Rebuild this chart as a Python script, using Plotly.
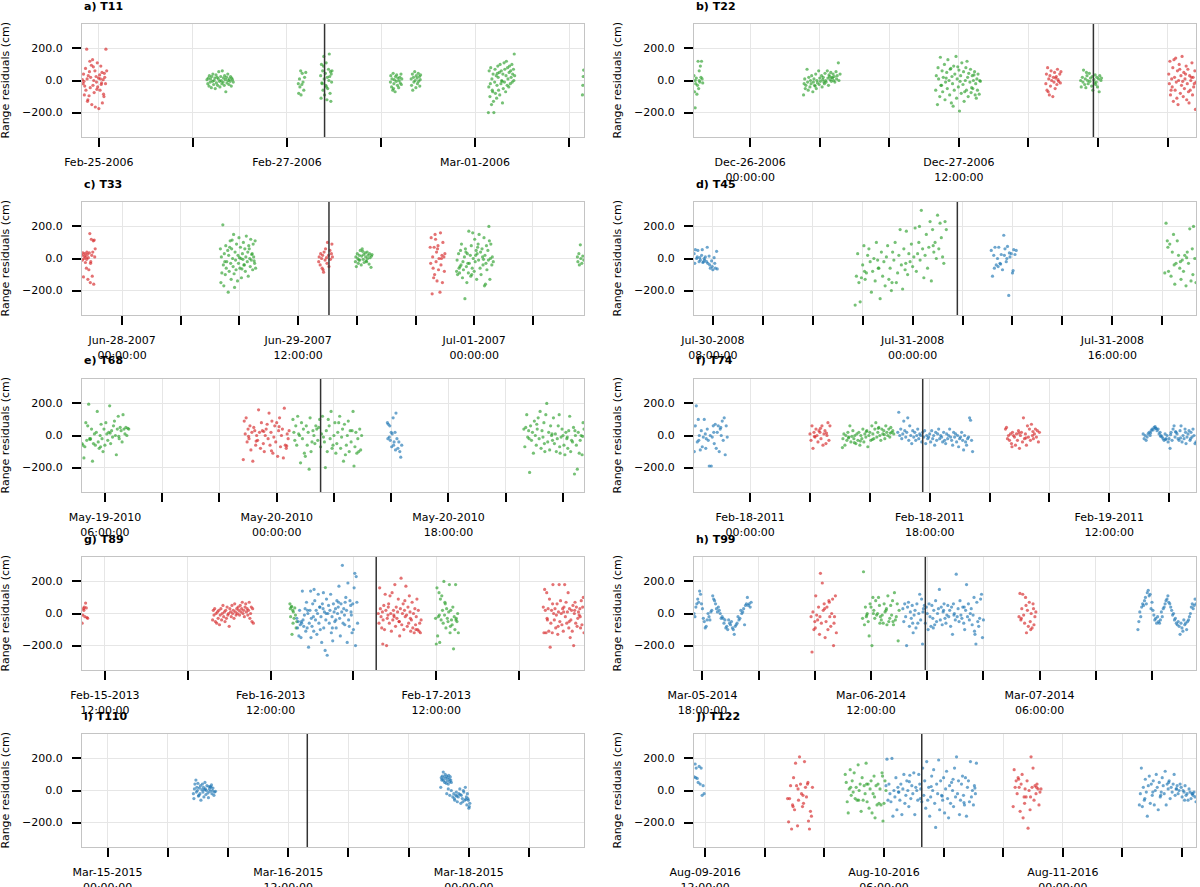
import datetime as dt
import plotly.graph_objects as go

# ---------------- data (hours from panel reference time, residual in cm) ----------------
PANEL_NAMES = ["a) T11", "b) T22", "c) T33", "d) T45", "e) T68",
               "f) T74", "g) T89", "h) T99", "i) T110", "j) T122"]
PANEL_BASE = ["2006-02-25 00:00", "2006-12-26 00:00", "2007-06-28 00:00", "2008-07-30 08:00",
              "2010-05-19 06:00", "2011-02-18 00:00", "2013-02-15 12:00", "2014-03-05 18:00",
              "2015-03-15 00:00", "2016-08-09 12:00"]
CLOSEST_APPROACH = ["2006-02-27 09:36", "2006-12-28 11:12", "2007-06-29 18:18", "2008-07-31 03:35",
                    "2010-05-20 04:36", "2011-02-18 17:18", "2013-02-17 03:18", "2014-03-06 17:48",
                    "2015-03-16 15:48", "2016-08-10 09:48"]
TICK_HOURS = [24, 12, 12, 4, 6, 6, 12, 6, 12, 6]
LABEL_EVERY = [2, 3, 3, 4, 3, 3, 2, 3, 3, 3]
Y_TICKS = [-200, 0, 200]

# ---- a) T11
A_RED_T = [[-4.2,-4.0,-3.9,-3.7,-3.6,-3.4,-3.3,-3.1,-3.0,-2.8,-2.7,-2.5,-2.4,-2.2,-2.1,-1.9,-1.8,-1.6,-1.5,-1.3,-1.2,-1.0,-0.9,-0.7,-0.6,-0.4,-0.3,-0.1,0.0,0.2,0.3,0.5,0.6,0.8,0.9,1.1,1.2,1.4,1.5,1.7,1.8,2.0,-3.8,-2.9,-1.4,-0.5,0.4,1.3,-2.3,0.7]]
A_RED_V = [[5,-20,40,-90,-35,75,-60,195,10,-120,30,-95,55,-45,20,95,-150,130,-30,0,-75,60,-165,25,-10,110,-40,15,-175,35,-60,90,-25,50,-140,5,-85,45,20,-20,195,60,-5,-130,85,-55,10,-100,120,-15]]
A_GREEN_T = [
    [27.6,27.8,27.9,28.1,28.2,28.4,28.5,28.7,28.8,29.0,29.1,29.3,29.4,29.6,29.7,29.9,30.0,30.2,30.3,30.5,30.6,30.8,30.9,31.1,31.2,31.4,31.5,31.7,31.8,32.0,32.1,32.3,32.4,32.6,32.7,32.9,33.0,33.2,33.3,33.5,33.6,33.8,33.9,34.1,34.3],
    [50.9,51.0,51.2,51.3,51.5,51.6,51.8,51.9,52.1,52.3,52.5,52.8],
    [56.6,56.7,56.8,57.0,57.1,57.2,57.4,57.5,57.6,57.8,57.9,58.0,58.2,58.3,58.4,58.6,58.7,58.8,59.0,59.1,59.2,59.3,59.4,59.5,57.3,58.1,58.9,56.9],
    [74.4,74.5,74.7,74.8,75.0,75.1,75.3,75.4,75.6,75.7,75.9,76.0,76.2,76.3,76.5,76.6,76.8,76.9,77.1,77.2,77.3,75.2],
    [79.7,79.8,80.0,80.1,80.3,80.4,80.6,80.7,80.9,81.0,81.2,81.3,81.5,81.6,81.8,81.9,82.0,82.1],
    [99.4,99.5,99.6,99.8,99.9,100.0,100.2,100.3,100.4,100.6,100.7,100.8,101.0,101.1,101.2,101.4,101.5,101.6,101.8,101.9,102.0,102.2,102.3,102.4,102.6,102.7,102.8,103.0,103.1,103.2,103.4,103.5,103.6,103.8,103.9,104.0,104.2,104.3,104.4,104.6,104.7,104.8,105.0,105.1,105.2,105.4,105.5,105.6,105.8,105.9,106.0,106.1,100.5,101.7,102.9],
    [123.4,123.5,123.6,123.7]]
A_GREEN_V = [
    [5,-20,15,-35,30,-10,10,-45,25,-5,40,-25,0,15,-50,35,-15,20,-30,10,55,-5,-40,25,0,-20,60,-10,15,-30,30,5,-70,20,-15,40,0,-25,10,-5,25,-35,15,5,-10],
    [-20,-80,10,-40,60,-90,-25,45,-10,-60,20,50],
    [30,-110,100,-20,60,-60,150,10,-90,45,-30,110,-120,20,-50,70,0,165,-80,55,-130,40,-10,60,90,-40,25,-15],
    [-10,30,-40,10,-60,45,-20,5,-70,25,-5,35,-30,15,-45,0,20,-15,40,-25,10,-50],
    [10,-30,40,-60,20,-10,55,0,-45,30,15,-20,45,-5,25,-35,5,35],
    [-200,-40,60,-100,-20,80,-150,10,-60,40,-130,-200,-10,70,-80,30,-110,-30,90,20,-60,50,-90,100,-20,60,0,-140,40,-50,110,-10,70,-70,30,120,-30,80,10,-40,50,90,-20,60,20,100,-10,40,70,0,165,30,-70,45,-5],
    [-90,-30,25,65]]

# ---- b) T22
B_GREEN_T = [
    [-9.7,-9.6,-9.5,-9.5,-9.4,-9.3,-9.2,-9.1,-9.0,-8.9,-8.8,-8.8,-8.7,-8.6,-8.5,-8.4,-8.3,-8.2],
    [9.2,9.3,9.4,9.5,9.6,9.8,9.9,10.0,10.1,10.3,10.4,10.5,10.6,10.8,10.9,11.0,11.1,11.3,11.4,11.5,11.6,11.8,11.9,12.0,12.1,12.3,12.4,12.5,12.6,12.8,12.9,13.0,13.1,13.3,13.4,13.5,13.6,13.8,13.9,14.0,14.1,14.3,14.4,14.5,14.6,14.8,14.9,15.0,15.2,15.3,15.5,11.2,12.7,13.7,14.2],
    [32.0,32.1,32.3,32.4,32.5,32.7,32.8,32.9,33.1,33.2,33.3,33.5,33.6,33.7,33.9,34.0,34.1,34.3,34.4,34.5,34.7,34.8,34.9,35.1,35.2,35.3,35.5,35.6,35.7,35.9,36.0,36.1,36.3,36.4,36.5,36.7,36.8,36.9,37.1,37.2,37.3,37.5,37.6,37.7,37.9,38.0,38.1,38.3,38.4,38.5,38.7,38.8,38.9,39.1,39.2,39.3,39.5,39.6,39.7,33.0,34.6,35.0,36.2,37.4,38.2,33.8,35.8,37.0,38.6,39.0],
    [57.0,57.1,57.3,57.4,57.5,57.7,57.8,57.9,58.1,58.2,58.3,58.5,58.6,58.7,58.9,59.0,59.1,59.3,59.4,59.5,59.7,59.8,59.9,60.1,60.2,60.3,60.5,60.6,58.0,59.6]]
B_GREEN_V = [
    [30,-70,0,-170,-20,15,-85,-30,120,-50,60,0,-10,90,20,120,10,-15],
    [-90,-20,10,-50,-30,70,-10,-60,20,-40,0,-20,30,-70,-10,10,-30,40,-50,0,-15,60,-25,15,-5,30,-40,5,20,-20,45,0,-10,60,15,-30,35,5,50,-5,20,40,0,25,-10,55,10,30,110,0,40,-35,-10,25,15],
    [-60,30,-150,80,10,-100,145,-30,60,-70,20,100,-120,-10,50,-50,130,0,-90,70,-140,25,-20,90,-60,40,150,-110,10,-40,65,-190,30,-80,110,-25,55,-130,0,80,-60,20,-100,45,-10,70,-75,30,-50,0,55,-90,-20,10,-60,40,-85,0,-5,-30,75,-160,-5,120,-45,15,85,-70,35,-110],
    [0,-40,20,-10,65,-25,10,-45,30,0,-20,45,-5,15,-35,25,-60,5,-15,35,-10,20,-40,10,-70,30,0,15,50,-25]]
B_RED_T = [
    [51.0,51.1,51.2,51.3,51.5,51.6,51.7,51.8,51.9,52.0,52.2,52.3,52.4,52.5,52.6,52.8,52.9,53.0,53.1,53.2,53.4,53.5,53.6,51.4,52.7],
    [72.2,72.3,72.4,72.5,72.7,72.8,72.9,73.0,73.2,73.3,73.4,73.5,73.7,73.8,73.9,74.0,74.2,74.3,74.4,74.5,74.7,74.8,74.9,75.0,75.2,75.3,75.4,75.5,75.7,75.8,75.9,76.0,76.2,76.3,76.4,76.5,76.7,76.8,76.9,72.6,73.1,73.6,74.1,74.6,75.1,75.6,76.1,76.6]]
B_RED_V = [
    [-20,40,-60,80,10,-90,30,-35,60,0,-100,20,-10,50,-50,25,-25,70,5,-5,40,-15,55,-70,15],
    [40,-20,120,-90,10,-40,80,-130,20,-60,140,-10,60,-150,0,100,-80,30,-30,150,-100,50,-50,10,90,-120,-20,70,-140,30,-60,0,110,-90,20,-40,60,-180,-10,-60,130,-110,70,-5,40,-70,20,-20]]

# ---- c) T33
C_RED_T = [
    [-8.2,-8.1,-8.0,-7.9,-7.8,-7.7,-7.6,-7.5,-7.4,-7.3,-7.2,-7.1,-7.0,-6.9,-6.8,-6.7,-6.6,-6.5,-6.4,-6.3,-6.2,-6.1,-6.0,-5.9,-5.8,-5.7,-5.6,-5.5,-7.25,-6.45],
    [40.2,40.3,40.5,40.6,40.8,40.9,41.0,41.2,41.3,41.5,41.6,41.8,41.9,42.0,42.2,42.3,42.5,42.6,42.8,42.9,43.0,41.1],
    [63.0,63.1,63.2,63.4,63.5,63.6,63.8,63.9,64.0,64.2,64.3,64.4,64.6,64.7,64.8,65.0,65.1,65.2,65.4,65.5,65.6,65.8,65.9,66.0,63.7,64.5,65.3,64.1]]
C_RED_V = [
    [20,-10,35,-115,0,15,30,-25,10,-60,40,25,-130,5,-70,35,155,-150,-20,120,20,-110,40,110,-160,115,10,60,-5,-30],
    [-20,10,-40,30,0,-60,20,-85,40,-10,60,5,-30,100,20,-50,50,-5,30,90,10,-70],
    [70,-30,130,-220,10,-60,70,-100,150,-20,40,-140,80,-70,0,-210,160,-40,20,-150,100,10,-80,30,-120,60,0,120]]
C_GREEN_T = [
    [20.1,20.2,20.3,20.4,20.6,20.7,20.8,20.9,21.1,21.2,21.3,21.4,21.6,21.7,21.8,21.9,22.1,22.2,22.3,22.4,22.6,22.7,22.8,22.9,23.1,23.2,23.3,23.4,23.6,23.7,23.8,23.9,24.1,24.2,24.3,24.4,24.6,24.7,24.8,24.9,25.1,25.2,25.3,25.4,25.6,25.7,25.8,25.9,26.1,26.2,26.3,26.4,26.6,26.7,26.8,26.9,27.1,27.2,27.3,21.0,22.0,23.0,24.0,25.0,26.0,27.0,22.5,24.5,26.5],
    [47.7,47.8,47.9,48.1,48.2,48.3,48.5,48.6,48.7,48.9,49.0,49.1,49.3,49.4,49.5,49.7,49.8,49.9,50.1,50.2,50.3,50.5,50.6,50.7,50.9,51.0,51.1,48.4,49.2,50.0],
    [68.4,68.5,68.6,68.8,68.9,69.0,69.2,69.3,69.4,69.6,69.7,69.8,70.0,70.1,70.2,70.4,70.5,70.6,70.8,70.9,71.0,71.2,71.3,71.4,71.6,71.7,71.8,72.0,72.1,72.2,72.4,72.5,72.6,72.8,72.9,73.0,73.2,73.3,73.4,73.6,73.7,73.8,74.0,74.1,74.2,74.4,74.5,74.6,74.8,74.9,75.0,75.2,75.3,75.4,75.6,75.7,75.9,69.1,70.3,71.5,72.7,73.9,75.1,70.7,72.3,74.3],
    [93.1,93.2,93.4,93.5,93.7,93.8,94.0,94.2,94.4]]
C_GREEN_V = [
    [60,-150,10,-90,210,-40,-170,30,-100,80,-60,-20,50,-210,20,-80,110,-30,-130,60,0,-50,150,-95,40,-10,-70,90,-140,20,-30,130,-60,70,0,-120,30,-5,100,-40,60,-80,10,140,-20,40,-110,80,0,-50,120,-10,30,-70,90,10,-30,110,-60,-20,70,-180,5,-40,60,-15,115,-65,25],
    [-20,10,-50,30,0,-30,20,-10,50,-40,15,60,-5,25,-25,35,10,-15,40,0,20,-35,30,5,-55,15,25,-10,45,-20],
    [-80,-10,-100,30,-60,-90,50,-40,90,-120,-20,-70,10,-250,60,-50,-150,30,-90,170,-30,20,-110,80,-60,160,0,-80,120,-20,50,-130,30,90,-10,150,-60,40,-100,60,10,-40,130,-170,20,-30,80,-70,50,-10,200,-130,0,90,-40,10,-20,-50,40,-100,70,-5,110,-30,20,-160,60],
    [10,-20,30,-40,85,0,-30,15,-10]]

# ---- d) T45
D_BLUE_T = [
    [-1.5,-1.45,-1.4,-1.3,-1.25,-1.2,-1.1,-1.05,-1.0,-0.9,-0.85,-0.8,-0.7,-0.65,-0.6,-0.5,-0.45,-0.4,-0.3,-0.25,-0.2,-0.1,-0.05,0.0,0.1,0.15,0.2,0.3,0.35,-0.75],
    [22.3,22.4,22.5,22.6,22.7,22.8,22.9,23.0,23.1,23.2,23.3,23.4,23.5,23.6,23.7,23.8,23.9,24.0,24.1,24.2,24.3,22.55,23.05,23.55,24.05,23.75,22.85,23.35]]
D_BLUE_V = [
    [30,-30,55,0,10,50,-20,5,-10,20,55,-25,0,-10,10,-20,70,-30,15,-40,-60,-15,-50,-70,5,-30,-60,45,-65,-20],
    [50,-110,20,70,-40,0,70,-30,25,-70,145,60,-20,75,-230,10,30,-90,55,25,50,-60,-35,0,-75,35,-50,20]]
D_GREEN_T = [
    [11.4,11.5,11.6,11.7,11.8,11.9,12.0,12.1,12.2,12.3,12.4,12.5,12.6,12.7,12.8,12.9,13.0,13.1,13.2,13.3,13.4,13.5,13.6,13.7,13.8,13.9,14.0,14.1,14.2,14.3,14.4,14.5,14.6,14.7,14.8,14.9,15.0,15.1,15.2,15.3,15.4,15.5,15.6,15.7,15.8,15.9,16.0,16.1,16.2,16.3,16.4,16.5,16.6,16.7,16.8,16.9,17.0,17.1,17.2,17.3,17.4,17.5,17.6,17.7,17.8,17.9,18.0,18.1,18.2,18.3,18.4,18.5,18.6,18.7,12.15,13.25,14.35,15.45,16.55,17.65],
    [36.2,36.3,36.4,36.5,36.6,36.7,36.8,36.9,37.0,37.1,37.2,37.3,37.4,37.5,37.6,37.7,37.8,37.9,38.0,38.1,38.2,38.3,38.4,38.5,38.6,38.7,36.45,36.95,37.45,37.95,38.45]]
D_GREEN_V = [
    [-290,-110,30,-150,-270,-120,-40,80,-130,-90,20,60,-20,-210,-80,0,-140,100,-10,-60,-250,40,-110,-20,-170,10,80,-130,-60,-200,40,-10,100,-150,-90,20,180,-40,-190,60,-70,170,-100,30,-20,90,-50,10,190,-80,30,100,-10,300,60,-120,20,150,-60,70,230,-140,180,40,100,0,270,60,220,130,10,-30,230,180,-80,-60,-150,-30,200,80],
    [-90,220,110,-80,90,-110,40,150,-160,-30,110,20,-60,-130,-10,-80,20,-170,40,-30,185,-140,60,200,0,-150,70,-40,-20,5,-100]]

# ---- e) T68
E_GREEN_T = [
    [-2.4,-2.3,-2.2,-2.1,-2.0,-1.9,-1.8,-1.7,-1.6,-1.5,-1.4,-1.3,-1.2,-1.1,-1.0,-0.9,-0.8,-0.7,-0.6,-0.5,-0.4,-0.3,-0.2,-0.1,0.0,0.1,0.2,0.3,0.4,0.5,0.6,0.7,0.8,0.9,1.0,1.1,1.2,1.3,1.4,1.5,1.6,1.7,1.8,1.9,2.0,2.1,2.2,2.3,2.4,2.5,-1.55,-0.45,0.55,1.45],
    [19.7,19.8,19.9,20.0,20.1,20.2,20.4,20.5,20.6,20.7,20.8,20.9,21.1,21.2,21.3,21.4,21.5,21.6,21.8,21.9,22.0,22.1,22.2,22.3,22.5,22.6,22.7,22.8,22.9,23.0,23.2,23.3,23.4,23.5,23.6,23.7,23.9,24.0,24.1,24.2,24.3,24.4,24.6,24.7,24.8,24.9,25.0,25.1,25.3,25.4,25.5,25.6,25.7,25.8,26.0,26.1,26.2,26.3,26.4,26.5,26.7,26.8,26.9,20.3,21.0,21.7,22.4,23.1,23.8,24.5,25.2,25.9,26.6],
    [43.9,44.0,44.1,44.2,44.3,44.4,44.5,44.6,44.7,44.8,44.9,45.0,45.1,45.2,45.3,45.4,45.5,45.6,45.7,45.8,45.9,46.0,46.1,46.2,46.3,46.4,46.5,46.6,46.7,46.8,46.9,47.0,47.1,47.2,47.3,47.4,47.5,47.6,47.7,47.8,47.9,48.0,48.1,48.2,48.3,48.4,48.5,48.6,48.7,48.8,48.9,49.0,49.1,49.2,49.3,49.4,49.5,49.6,49.7,49.8,49.9,50.0,50.1,50.2,44.45,45.25,46.05,46.85,47.65,48.45,49.25,50.05]]
E_GREEN_V = [
    [-50,-60,-140,-70,80,-30,60,195,-20,-20,40,-160,-50,10,-60,20,150,-40,-80,0,70,-20,-100,40,-60,80,10,-30,20,185,-50,30,-10,60,90,0,-120,40,120,-20,50,30,-40,130,40,10,50,0,45,40,-25,-70,15,-5],
    [100,20,-30,60,-60,120,0,-170,80,-20,40,-110,60,-60,20,-210,110,-100,30,0,-50,60,40,-30,100,-70,10,120,-10,-40,30,-100,100,60,-20,150,-60,0,80,-110,-50,20,120,-80,-10,40,-160,70,-60,0,90,-100,30,-40,150,-190,-70,20,-110,-20,40,-90,0,10,-130,-40,50,-200,-80,80,-120,30,-100],
    [40,-70,50,130,-10,30,-230,60,-30,20,-110,90,0,-60,40,110,-20,150,-80,30,-10,80,-100,130,200,-40,20,-90,60,0,-30,110,-50,10,-100,-20,60,130,-110,-10,40,0,-60,-120,20,-20,-80,30,120,-100,-30,-40,50,-240,0,-60,-210,20,-110,-30,0,-120,80,40,-20,70,-50,10,-70,-10,30,-5]]
E_RED_T = [[14.5,14.6,14.7,14.8,14.9,15.0,15.1,15.2,15.3,15.4,15.5,15.6,15.7,15.8,15.9,16.0,16.1,16.2,16.3,16.4,16.5,16.6,16.7,16.8,16.9,17.0,17.1,17.2,17.3,17.4,17.5,17.6,17.7,17.8,17.9,18.0,18.1,18.2,18.3,18.4,18.5,18.6,18.7,18.8,18.9,19.0,19.1,19.2,19.3,15.05,15.85,16.65,17.45,18.25,19.05]]
E_RED_V = [[-150,90,10,110,-40,40,-20,60,-90,20,-160,50,30,-60,0,-30,160,20,-80,80,30,-50,-100,0,40,70,-20,140,-60,20,90,-110,-10,60,-40,80,-130,30,110,-70,0,40,-140,170,-60,-80,10,-20,30,-5,-35,25,-95,55,-65]]
E_BLUE_T = [[29.6,29.65,29.7,29.8,29.85,29.9,30.0,30.05,30.1,30.2,30.25,30.3,30.4,30.45,30.5,30.6,30.7,30.8,30.9,31.0,31.1]]
E_BLUE_V = [[80,-20,70,-10,60,-30,20,-70,10,110,-60,-40,20,-90,140,-20,-80,-40,-100,-135,-60]]

# ---- f) T74
F_BLUE_T = [
    [-5.6,-5.5,-5.4,-5.3,-5.2,-5.1,-5.0,-4.9,-4.8,-4.7,-4.6,-4.5,-4.4,-4.3,-4.2,-4.1,-4.0,-3.9,-3.8,-3.7,-3.6,-3.5,-3.4,-3.3,-3.2,-3.1,-3.0,-2.9,-2.8,-2.7,-2.6,-2.5,-2.4,-2.3,-5.15,-4.45,-3.65,-2.95],
    [14.8,14.9,15.0,15.1,15.2,15.3,15.4,15.5,15.6,15.7,15.8,15.9,16.0,16.1,16.2,16.3,16.4,16.5,16.6,16.7,16.8,16.9,17.0,17.1,17.2,17.3,17.4,17.5,17.6,17.7,17.8,17.9,18.0,18.1,18.2,18.3,18.4,18.5,18.6,18.7,18.8,18.9,19.0,19.1,19.2,19.3,19.4,19.5,19.6,19.7,19.8,19.9,20.0,20.1,20.2,20.3,20.4,20.5,20.6,20.7,20.8,20.9,21.0,21.1,21.2,21.3,21.4,21.5,21.6,21.7,21.8,21.9,22.0,22.1,22.2,22.3],
    [39.4,39.5,39.6,39.7,39.8,39.9,40.0,40.1,40.2,40.3,40.4,40.5,40.6,40.7,40.8,40.9,41.0,41.1,41.2,41.3,41.4,41.5,41.6,41.7,41.8,41.9,42.0,42.1,42.2,42.3,42.4,42.5,42.6,42.7,42.8,42.9,43.0,43.1,43.2,43.3,43.4,43.5,43.6,43.7,43.8,43.9,44.0,44.1,44.2,44.3,44.4,44.5,44.6,44.7,40.15,40.65,41.15,41.65,42.15,42.65,43.15,43.65,44.15]]
F_BLUE_V = [
    [-100,60,185,-40,100,0,-90,30,-70,-10,100,10,-20,40,-30,-190,0,-190,-10,60,-50,70,-80,20,60,-100,40,0,90,-30,110,-120,60,-10,-30,-80,20,50],
    [20,145,0,40,-20,10,90,30,-10,20,110,-30,60,0,-50,30,-10,20,-30,0,40,-20,10,0,-40,20,-10,30,-50,0,-20,-10,10,-40,30,-20,0,-60,20,-30,10,40,-20,0,-10,-40,20,-30,-50,10,-20,0,40,-10,-30,-60,20,-10,10,-40,0,-70,-20,-10,20,-30,-90,0,-40,-60,-20,-10,110,95,-30,-100],
    [10,-20,0,-30,-10,10,20,0,30,40,35,50,55,45,30,40,10,20,0,-10,-20,-30,10,-20,0,-40,-20,-80,20,-30,40,60,-10,20,10,-20,-30,30,60,-40,0,-20,40,-50,-10,10,30,-30,20,-10,40,0,-50,-40,15,45,-5,-25,5,25,-15,20,-20]]
F_RED_T = [
    [6.0,6.1,6.2,6.3,6.4,6.5,6.6,6.7,6.8,6.9,7.0,7.1,7.2,7.3,7.4,7.5,7.6,7.7,7.8,7.9,8.0,6.45,7.05,7.65],
    [25.6,25.7,25.8,25.9,26.0,26.1,26.2,26.3,26.4,26.5,26.6,26.7,26.8,26.9,27.0,27.1,27.2,27.3,27.4,27.5,27.6,27.7,27.8,27.9,28.0,28.1,28.2,28.3,28.4,28.5,28.6,28.7,28.8,28.9,29.0,26.25,26.95,27.65,28.35]]
F_RED_V = [
    [10,-30,60,-80,20,-10,40,0,-40,30,20,-20,60,-60,10,30,-50,0,80,-30,60,-5,45,15],
    [40,50,-20,0,-30,10,-50,20,0,-10,-60,10,-30,30,-80,0,20,-40,110,-20,10,-60,60,-10,40,-30,70,0,-20,10,40,-10,30,-40,20,-70,15,-15,25]]
F_GREEN_T = [[9.25,9.3,9.4,9.5,9.6,9.7,9.8,9.9,10.0,10.1,10.2,10.3,10.4,10.5,10.6,10.7,10.8,10.9,11.0,11.1,11.2,11.3,11.4,11.5,11.6,11.7,11.8,11.9,12.0,12.1,12.2,12.3,12.4,12.5,12.6,12.7,12.8,12.9,13.0,13.1,13.2,13.3,13.4,13.5,13.6,13.7,13.8,13.9,14.0,14.1,14.2,14.3,14.4,9.85,10.45,11.05,11.65,12.25,12.85,13.45,14.05]]
F_GREEN_V = [[-75,-20,10,-60,0,-30,20,-10,60,-40,-5,30,-20,0,-50,10,-30,20,-60,0,-20,40,-40,10,-10,30,-70,0,20,-30,60,10,-20,40,80,-10,20,50,0,-30,40,10,30,-20,60,20,0,40,-10,50,20,30,10,-15,-45,-35,25,-25,45,5,15]]

# ---- g) T89
G_RED_T = [
    [-3.3,-3.2,-3.1,-3.05,-3.0,-2.9,-2.8,-2.7,-2.6,-2.5],
    [15.6,15.7,15.8,15.9,16.0,16.1,16.2,16.3,16.4,16.5,16.6,16.7,16.8,16.9,17.0,17.1,17.2,17.3,17.4,17.5,17.6,17.7,17.8,17.9,18.0,18.1,18.2,18.3,18.4,18.5,18.6,18.7,18.8,18.9,19.0,19.1,19.2,19.3,19.4,19.5,19.6,19.7,19.8,19.9,20.0,20.1,20.2,20.3,20.4,20.5,20.6,20.7,20.8,20.9,21.0,21.1,21.2,21.3,21.4,21.5],
    [39.6,39.7,39.8,39.9,40.0,40.1,40.2,40.3,40.4,40.5,40.6,40.7,40.8,40.9,41.0,41.1,41.2,41.3,41.4,41.5,41.6,41.7,41.8,41.9,42.0,42.1,42.2,42.3,42.4,42.5,42.6,42.7,42.8,42.9,43.0,43.1,43.2,43.3,43.4,43.5,43.6,43.7,43.8,43.9,44.0,44.1,44.2,44.3,44.4,44.5,44.6,44.7,44.8,44.9,45.0,45.1,45.2,45.3,45.4,45.5,45.6,45.7,45.8,40.25,41.05,41.85,42.65,43.45,44.25,45.05],
    [63.5,63.6,63.7,63.8,63.9,64.0,64.1,64.2,64.3,64.4,64.5,64.6,64.7,64.8,64.9,65.0,65.1,65.2,65.3,65.4,65.5,65.6,65.7,65.8,65.9,66.0,66.1,66.2,66.3,66.4,66.5,66.6,66.7,66.8,66.9,67.0,67.1,67.2,67.3,67.4,67.5,67.6,67.7,67.8,67.9,68.0,68.1,68.2,68.3,68.4,68.5,68.6,68.7,68.8,68.9,69.0,69.1,69.2,69.3,69.4,64.05,64.85,65.65,66.45,67.25,68.05,68.85]]
G_RED_V = [
    [-60,-10,30,20,40,-20,65,35,-25,-30],
    [-40,20,-10,30,-50,0,-60,10,-30,20,-70,-10,30,-40,0,50,-20,10,-50,20,-30,40,-10,0,-80,30,10,-20,50,0,20,-30,60,10,-10,30,0,40,20,-10,50,10,30,70,0,20,-20,40,60,10,30,-10,20,70,-30,0,40,-50,30,-60],
    [0,-60,160,30,-20,-90,10,-40,50,-100,120,20,-200,-30,-10,60,-60,110,0,-110,130,-40,20,-20,180,-80,40,-30,10,90,-50,-140,30,220,-70,0,60,-100,20,-20,170,-10,-80,40,-60,110,10,-110,-40,70,-90,0,-120,30,-70,-20,90,-100,20,-110,-60,-120,-40,-190,40,-10,-50,80,-30,-100],
    [40,-120,150,20,-120,130,-40,30,-110,90,-210,-60,20,-120,180,0,-40,30,-90,-10,60,-130,10,180,-50,80,0,-70,30,-110,40,180,-20,70,-60,10,130,-90,30,-150,-40,20,-110,50,-200,0,70,-60,40,-80,-30,10,-10,30,-90,80,-70,40,100,-120,-30,60,-80,10,-50,20,-20]]
G_GREEN_T = [
    [26.8,26.85,26.9,27.0,27.05,27.1,27.2,27.25,27.3,27.4,27.5,27.6,27.7,27.8],
    [47.9,48.0,48.1,48.2,48.3,48.4,48.5,48.6,48.7,48.8,48.9,49.0,49.1,49.2,49.3,49.4,49.5,49.6,49.7,49.8,49.9,50.0,50.1,50.2,50.3,50.4,50.5,50.6,50.7,50.8,50.9,51.0,51.1,51.2,48.45,49.25,50.05,50.85]]
G_GREEN_V = [
    [60,30,-20,40,45,-130,20,-60,10,-30,35,-10,-90,-50],
    [-30,-190,160,-140,-20,130,-180,90,-40,110,20,-60,200,-10,60,-90,30,-30,-50,10,180,-120,20,-40,-70,40,-220,-20,-100,180,-30,-50,0,-120,-10,70,-80,-40]]
G_BLUE_T = [[27.8,27.9,28.0,28.1,28.2,28.3,28.4,28.5,28.6,28.7,28.8,28.9,29.0,29.1,29.2,29.3,29.4,29.5,29.6,29.7,29.8,29.9,30.0,30.1,30.2,30.3,30.4,30.5,30.6,30.7,30.8,30.9,31.0,31.1,31.2,31.3,31.4,31.5,31.6,31.7,31.8,31.9,32.0,32.1,32.2,32.3,32.4,32.5,32.6,32.7,32.8,32.9,33.0,33.1,33.2,33.3,33.4,33.5,33.6,33.7,33.8,33.9,34.0,34.1,34.2,34.3,34.4,34.5,34.6,34.7,34.8,34.9,35.0,35.1,35.2,35.3,35.4,35.5,35.6,35.7,35.8,35.9,36.0,36.1,36.2,36.3,36.4,36.5,36.6,28.45,29.35,30.25,31.15,32.05,32.95,33.85,34.75,35.65,29.85,31.65,33.45,35.25]]
G_BLUE_V = [[-30,-90,-50,-140,20,-70,-150,-60,140,-40,-80,-10,30,-110,70,-90,0,-210,-60,20,140,-30,-80,60,-20,150,80,-40,20,-130,0,120,-60,40,-100,-20,-180,60,30,-90,10,-230,-40,90,-260,0,50,-60,20,120,-120,-20,-170,60,10,-50,30,-90,80,0,40,170,-30,-140,60,10,300,-60,30,-10,70,100,20,-180,190,-40,-80,80,50,-10,-120,60,-100,160,250,-200,230,70,-60,-50,20,-110,40,0,-90,70,-70,10,-150,130,-40]]

# ---- h) T99
H_BLUE_T = [
    [-0.9,-0.8,-0.7,-0.6,-0.5,-0.4,-0.3,-0.2,-0.1,0.0,0.1,0.2,0.3,0.4,0.5,0.6,0.7,0.8,0.9,1.0,1.1,1.2,1.3,1.4,1.5,1.6,1.7,1.8,1.9,2.0,2.1,2.2,2.3,2.4,2.5,2.6,2.7,2.8,2.9,3.0,3.1,3.2,3.3,3.4,3.5,3.6,3.7,3.8,3.9,4.0,4.1,4.2,4.3,4.4,4.5,4.6,4.7,4.8,4.9,5.0,5.1,5.2],
    [21.4,21.5,21.6,21.7,21.8,21.9,22.0,22.1,22.2,22.3,22.4,22.5,22.6,22.7,22.8,22.9,23.0,23.1,23.2,23.3,23.4,23.5,23.6,23.7,23.8,23.9,24.0,24.1,24.2,24.3,24.4,24.5,24.6,24.7,24.8,24.9,25.0,25.1,25.2,25.3,25.4,25.5,25.6,25.7,25.8,25.9,26.0,26.1,26.2,26.3,26.4,26.5,26.6,26.7,26.8,26.9,27.0,27.1,27.2,27.3,27.4,27.5,27.6,27.7,27.8,27.9,28.0,28.1,28.2,28.3,28.4,28.5,28.6,28.7,28.8,28.9,29.0,29.1,29.2,29.3,29.4,29.5,29.6,29.7,29.8,29.9,30.0,22.45,23.55,24.65,25.75,26.85,27.95,29.05],
    [46.5,46.6,46.7,46.8,46.9,47.0,47.1,47.2,47.3,47.4,47.5,47.6,47.7,47.8,47.9,48.0,48.1,48.2,48.3,48.4,48.5,48.6,48.7,48.8,48.9,49.0,49.1,49.2,49.3,49.4,49.5,49.6,49.7,49.8,49.9,50.0,50.1,50.2,50.3,50.4,50.5,50.6,50.7,50.8,50.9,51.0,51.1,51.2,51.3,51.4,51.5,51.6,51.7,51.8,51.9,52.0,52.1,52.2,52.3,52.4,52.5,52.6,52.7]]
H_BLUE_V = [
    [0,-20,40,60,90,70,140,120,60,30,-30,-50,-90,-80,-40,0,-20,-40,10,20,110,90,80,60,30,10,40,20,0,-30,-20,-30,-60,-40,-90,-80,-100,-40,-60,-70,-50,-90,-100,-130,-80,-70,-60,-20,-40,-30,20,0,10,30,-70,50,60,100,50,60,40,70],
    [30,-50,60,-20,-200,40,70,-80,10,-30,50,-120,-10,20,-90,60,-60,0,120,-40,90,-190,30,50,-60,40,0,-100,60,-20,-80,50,-30,20,-70,80,-50,0,30,150,-40,40,-70,10,60,-30,-60,-10,50,-20,20,-80,40,-130,60,0,-40,245,-20,30,-50,80,-10,-30,40,-60,-100,20,180,-20,60,-40,0,30,-70,-10,100,-130,-190,70,-50,-80,-30,90,120,-150,-40,-60,10,-90,20,-10,40,-110],
    [-100,-50,10,-20,40,60,50,80,100,60,130,145,110,120,30,70,20,-10,-40,-30,-60,-20,-50,-60,-40,10,-20,30,40,60,80,90,110,70,60,40,20,-10,0,-40,-30,-60,-70,-50,-80,-130,-60,-90,-110,-40,-70,-60,-100,-50,-40,-20,0,40,60,30,50,90,60]]
H_RED_T = [
    [11.6,11.7,11.8,11.9,12.0,12.1,12.2,12.3,12.4,12.5,12.6,12.7,12.8,12.9,13.0,13.1,13.2,13.3,13.4,13.5,13.6,13.7,13.8,13.9,14.0,14.1,14.2,14.3,12.05,12.55,13.05,13.55,14.05],
    [33.8,33.9,34.0,34.1,34.2,34.3,34.4,34.5,34.6,34.7,34.8,34.9,35.0,35.1,35.2,35.3,35.4,35.5,35.6,34.05,34.55,35.05,35.35]]
H_RED_V = [
    [-20,-240,10,-100,-50,110,-10,-40,40,-130,250,-60,190,20,60,-150,-50,40,-100,80,-20,-80,0,90,-200,-20,110,-120,-90,-20,30,70,-60],
    [-20,125,-40,30,120,-10,-60,100,-120,20,-80,70,-50,0,-90,60,-70,-20,10,-30,50,-100,30]]
H_GREEN_T = [[17.1,17.2,17.3,17.4,17.5,17.6,17.7,17.8,17.9,18.0,18.1,18.2,18.3,18.4,18.5,18.6,18.7,18.8,18.9,19.0,19.1,19.2,19.3,19.4,19.5,19.6,19.7,19.8,19.9,20.0,20.1,20.2,20.3,20.4,20.5,20.6,20.7,20.8,20.9,21.0,17.55,18.25,18.95,19.65,20.35]]
H_GREEN_V = [[-30,260,-70,40,-20,0,-50,-140,60,40,-200,100,20,-30,80,-10,0,100,50,-20,-40,-10,-60,60,10,20,-70,110,-50,-30,50,-10,80,-70,130,-40,-20,60,-170,20,-10,0,-60,30,-50]]

# ---- i) T110
I_BLUE_T = [
    [17.1,17.2,17.3,17.4,17.6,17.7,17.8,17.9,18.0,18.2,18.3,18.4,18.5,18.6,18.8,18.9,19.0,19.1,19.2,19.4,19.5,19.6,19.7,19.8,20.0,20.1,20.2,20.3,20.4,20.6,20.7,20.8,20.9,21.0,21.2,21.3,21.5,18.1,19.3,20.5],
    [66.4,66.5,66.6,66.7,66.8,66.9,67.0,67.1,67.2,67.3,67.4,67.5,67.6,67.7,67.8,67.9,68.0,68.1,68.2,68.3,68.4,68.5,67.6,67.9,68.2,68.5,68.8,69.0,69.2,69.4,69.5,69.7,69.9,70.0,70.2,70.4,70.5,70.7,70.9,71.0,71.2,71.3,71.5,71.6,71.8,71.9,72.0,72.2,69.1,69.6,70.3,70.8,71.4,71.7,72.1]]
I_BLUE_V = [
    [-20,-50,10,40,65,-10,20,0,45,-30,15,-20,30,-60,5,40,-10,20,-40,50,10,-25,0,30,-15,-45,25,10,-5,20,35,-20,0,15,-30,-10,-5,-35,5,25],
    [20,80,65,90,70,115,60,85,50,100,75,45,90,60,80,40,95,70,55,85,65,50,-20,10,-30,0,-40,-20,-60,-30,-10,-70,-40,-20,10,-80,-30,-50,0,-10,-60,20,-40,-90,-50,-60,-110,-80,-50,-35,-25,-70,-55,-20,-100]]

# ---- j) T122
J_BLUE_T = [
    [-1.1,-1.0,-0.95,-0.9,-0.8,-0.7,-0.6,-0.5,-0.4,-0.3,-0.2,-0.1],
    [18.2,18.3,18.4,18.5,18.6,18.7,18.8,18.9,19.0,19.1,19.2,19.3,19.4,19.5,19.6,19.7,19.8,19.9,20.0,20.1,20.2,20.3,20.4,20.5,20.6,20.7,20.8,20.9,21.0,21.1,21.2,21.3,21.4,21.5,21.6,21.7,21.8,21.9,22.0,22.1,22.2,22.3,22.4,22.5,22.6,22.7,22.8,22.9,23.0,23.1,23.2,23.3,23.4,23.5,23.6,23.7,23.8,23.9,24.0,24.1,24.2,24.3,24.4,24.5,24.6,24.7,24.8,24.9,25.0,25.1,25.2,25.3,25.4,25.5,25.6,25.7,25.8,25.9,26.0,26.1,26.2,26.3,26.4,26.5,26.6,26.7,26.8,26.9,27.0,27.1,27.2,27.3,19.45,20.55,21.65,22.75,23.85,24.95,26.05,27.15],
    [43.7,43.8,43.9,44.0,44.1,44.2,44.3,44.4,44.5,44.6,44.7,44.8,44.9,45.0,45.1,45.2,45.3,45.4,45.5,45.6,45.7,45.8,45.9,46.0,46.1,46.2,46.3,46.4,46.5,46.6,46.7,46.8,46.9,47.0,47.1,47.2,47.3,47.4,47.5,47.6,47.7,47.8,47.9,48.0,48.1,48.2,48.3,48.4,48.5,48.6,48.7,48.8,48.9,49.0,49.1,49.2,49.3,49.4,44.25,45.05,45.85,46.65,47.45,48.25,49.05]]
J_BLUE_V = [
    [85,165,80,140,75,50,150,40,140,-30,30,-20],
    [30,195,-60,40,-20,-70,200,-160,0,-40,80,-120,20,-10,-60,40,-150,10,100,-80,-30,60,0,-100,95,-50,30,-20,110,-150,20,0,-60,100,40,10,-70,140,-30,60,-110,180,-60,20,-160,-40,90,0,130,-80,-230,40,-20,190,-120,60,-30,-60,80,-140,10,120,-50,-170,30,-80,50,0,-100,140,-40,210,-20,60,-150,-60,40,90,-30,-90,80,-160,20,60,-70,180,-40,0,-90,30,-20,170,-10,55,-50,25,-35,70,-75,15],
    [-90,-20,140,-100,20,-60,70,-10,-160,30,90,-80,40,-30,60,-90,0,100,20,-120,50,-40,-10,80,30,-20,120,-90,40,10,60,-50,20,-10,40,100,-30,10,30,-20,0,40,20,-40,0,-10,30,-30,-20,-60,10,-10,-50,-20,-30,-10,-40,-70,-50,-10,-30,50,10,-60,-20]]
J_RED_T = [
    [8.3,8.4,8.5,8.6,8.7,8.8,8.9,9.0,9.1,9.2,9.3,9.4,9.5,9.6,9.7,9.8,9.9,10.0,10.1,10.2,10.3,10.4,10.5,10.6,10.7,10.8,8.85,9.35,9.85,10.35],
    [31.0,31.1,31.2,31.3,31.4,31.5,31.6,31.7,31.8,31.9,32.0,32.1,32.2,32.3,32.4,32.5,32.6,32.7,32.8,32.9,33.0,33.1,33.2,33.3,33.4,33.5,33.6,33.7,33.8,31.55,32.15,32.75,33.35]]
J_RED_V = [
    [-50,-195,-50,30,-240,-90,80,-120,170,30,-220,-60,210,40,-20,-100,-80,180,20,-40,40,-190,-240,-130,-160,20,-100,10,-30,50],
    [-100,130,20,60,-20,80,20,-130,40,100,-170,-40,10,-40,60,-235,0,-120,210,20,140,-60,30,-20,40,10,-90,-10,10,70,-80,-40,20]]
J_GREEN_T = [[14.1,14.2,14.3,14.4,14.5,14.6,14.7,14.8,14.9,15.0,15.1,15.2,15.3,15.4,15.5,15.6,15.7,15.8,15.9,16.0,16.1,16.2,16.3,16.4,16.5,16.6,16.7,16.8,16.9,17.0,17.1,17.2,17.3,17.4,17.5,17.6,17.7,17.8,17.9,18.0,18.1,18.2,14.65,15.45,16.25,17.05,17.85]]
J_GREEN_V = [[100,50,-70,-140,10,130,-30,60,-10,110,-50,20,-60,160,0,40,-130,80,-60,30,-20,170,-70,40,-110,10,60,-140,-20,90,-170,30,-90,40,-80,10,-90,110,-190,-80,60,0,20,-60,40,-40,90]]

# ---------------- layout / styling ----------------
X_RANGE_H = [(-4.3, 123.8), (-9.7, 76.9), (-8.2, 94.45), (-1.51, 38.7), (-2.4, 50.2),
             (-5.63, 44.7), (-3.32, 69.4), (-0.9, 52.7), (-5.1, 94.95), (-1.12, 49.4)]
W, H = 1200, 887
COL_PX = [(82, 584), (694, 1196)]
ROW_TOP_PX = [24, 202, 379, 557, 734]
ROW_H_PX = 113
YLAB_X_PX = [5, 617]
FONT = "DejaVu Sans"
COLORS = {"red": "#d62728", "green": "#2ca02c", "blue": "#1f77b4"}

EMPTY = ([], [])
PANEL_SERIES = [
    {"red": (A_RED_T, A_RED_V), "green": (A_GREEN_T, A_GREEN_V), "blue": EMPTY},
    {"red": (B_RED_T, B_RED_V), "green": (B_GREEN_T, B_GREEN_V), "blue": EMPTY},
    {"red": (C_RED_T, C_RED_V), "green": (C_GREEN_T, C_GREEN_V), "blue": EMPTY},
    {"red": EMPTY, "green": (D_GREEN_T, D_GREEN_V), "blue": (D_BLUE_T, D_BLUE_V)},
    {"red": (E_RED_T, E_RED_V), "green": (E_GREEN_T, E_GREEN_V), "blue": (E_BLUE_T, E_BLUE_V)},
    {"red": (F_RED_T, F_RED_V), "green": (F_GREEN_T, F_GREEN_V), "blue": (F_BLUE_T, F_BLUE_V)},
    {"red": (G_RED_T, G_RED_V), "green": (G_GREEN_T, G_GREEN_V), "blue": (G_BLUE_T, G_BLUE_V)},
    {"red": (H_RED_T, H_RED_V), "green": (H_GREEN_T, H_GREEN_V), "blue": (H_BLUE_T, H_BLUE_V)},
    {"red": EMPTY, "green": EMPTY, "blue": (I_BLUE_T, I_BLUE_V)},
    {"red": (J_RED_T, J_RED_V), "green": (J_GREEN_T, J_GREEN_V), "blue": (J_BLUE_T, J_BLUE_V)},
]

fig = go.Figure()
layout = {}
annotations = []
shapes = []

for p in range(10):
    r, c = divmod(p, 2)
    sfx = "" if p == 0 else str(p + 1)
    xn, yn = "x" + sfx, "y" + sfx
    base = dt.datetime.strptime(PANEL_BASE[p], "%Y-%m-%d %H:%M")

    for cname in ["red", "green", "blue"]:
        Ts, Vs = PANEL_SERIES[p][cname]
        xs, ys = [], []
        for tc, vc in zip(Ts, Vs):
            for t, v in zip(tc, vc):
                xs.append(base + dt.timedelta(hours=t))
                ys.append(v)
        if xs:
            fig.add_trace(go.Scatter(
                x=xs, y=ys, mode="markers", xaxis=xn, yaxis=yn,
                marker=dict(color=COLORS[cname], size=3.2, opacity=0.65, line=dict(width=0)),
                showlegend=False, hoverinfo="skip"))

    lo, hi = X_RANGE_H[p]
    step = TICK_HOURS[p]
    tickvals, ticktext = [], []
    k = int(lo // step)
    while k * step <= hi:
        if k * step >= lo:
            tv = base + dt.timedelta(hours=k * step)
            tickvals.append(tv)
            if k % LABEL_EVERY[p] == 0:
                if p == 0:
                    ticktext.append(tv.strftime("%b-%d-%Y"))
                else:
                    ticktext.append(tv.strftime("%b-%d-%Y") + "<br>" + tv.strftime("%H:%M:%S"))
            else:
                ticktext.append("")
        k += 1

    x0p, x1p = COL_PX[c]
    top = ROW_TOP_PX[r]
    ydom = [1 - (top + ROW_H_PX) / H, 1 - top / H]
    xdom = [x0p / W, x1p / W]

    layout["xaxis" + sfx] = dict(
        domain=xdom, anchor=yn, type="date",
        range=[base + dt.timedelta(hours=lo), base + dt.timedelta(hours=hi)],
        tickmode="array", tickvals=tickvals, ticktext=ticktext,
        ticks="outside", ticklen=9, tickwidth=2, tickcolor="black",
        ticklabelstandoff=6,
        tickfont=dict(family=FONT, size=11, color="black"),
        showgrid=True, gridcolor="#e6e6e6", gridwidth=1,
        showline=True, linecolor="#c4c4c4", linewidth=1, mirror=True,
        zeroline=False, automargin=False, fixedrange=True)
    layout["yaxis" + sfx] = dict(
        domain=ydom, anchor=xn, range=[-352, 352],
        tickmode="array", tickvals=Y_TICKS, tickformat=".1f",
        ticks="outside", ticklen=9, tickwidth=2, tickcolor="black",
        ticklabelstandoff=7,
        tickfont=dict(family=FONT, size=11, color="black"),
        showgrid=True, gridcolor="#e6e6e6", gridwidth=1,
        showline=True, linecolor="#c4c4c4", linewidth=1, mirror=True,
        zeroline=False, automargin=False, fixedrange=True)

    ca = dt.datetime.strptime(CLOSEST_APPROACH[p], "%Y-%m-%d %H:%M")
    shapes.append(dict(type="line", xref=xn, yref=yn + " domain", x0=ca, x1=ca, y0=0, y1=1,
                       line=dict(color="#333333", width=1.5), layer="above"))

    annotations.append(dict(
        text="<b>" + PANEL_NAMES[p] + "</b>", xref=xn + " domain", yref=yn + " domain",
        x=0, y=1 + 18 / ROW_H_PX, xanchor="left", yanchor="middle", showarrow=False,
        font=dict(family=FONT, size=11, color="black")))
    annotations.append(dict(
        text="Range residuals (cm)", xref="paper", yref=yn + " domain",
        x=YLAB_X_PX[c] / W, y=0.5, xanchor="center", yanchor="middle", textangle=-90,
        showarrow=False, font=dict(family=FONT, size=11, color="black")))

fig.update_layout(
    width=W, height=H, autosize=False,
    margin=dict(l=0, r=0, t=0, b=0),
    paper_bgcolor="white", plot_bgcolor="white",
    font=dict(family=FONT, size=11, color="black"),
    showlegend=False, annotations=annotations, shapes=shapes,
    **layout)

fig.write_html("out.html", config={"displayModeBar": False},
               post_script="document.body.style.margin='0';document.body.style.overflow='hidden';")
